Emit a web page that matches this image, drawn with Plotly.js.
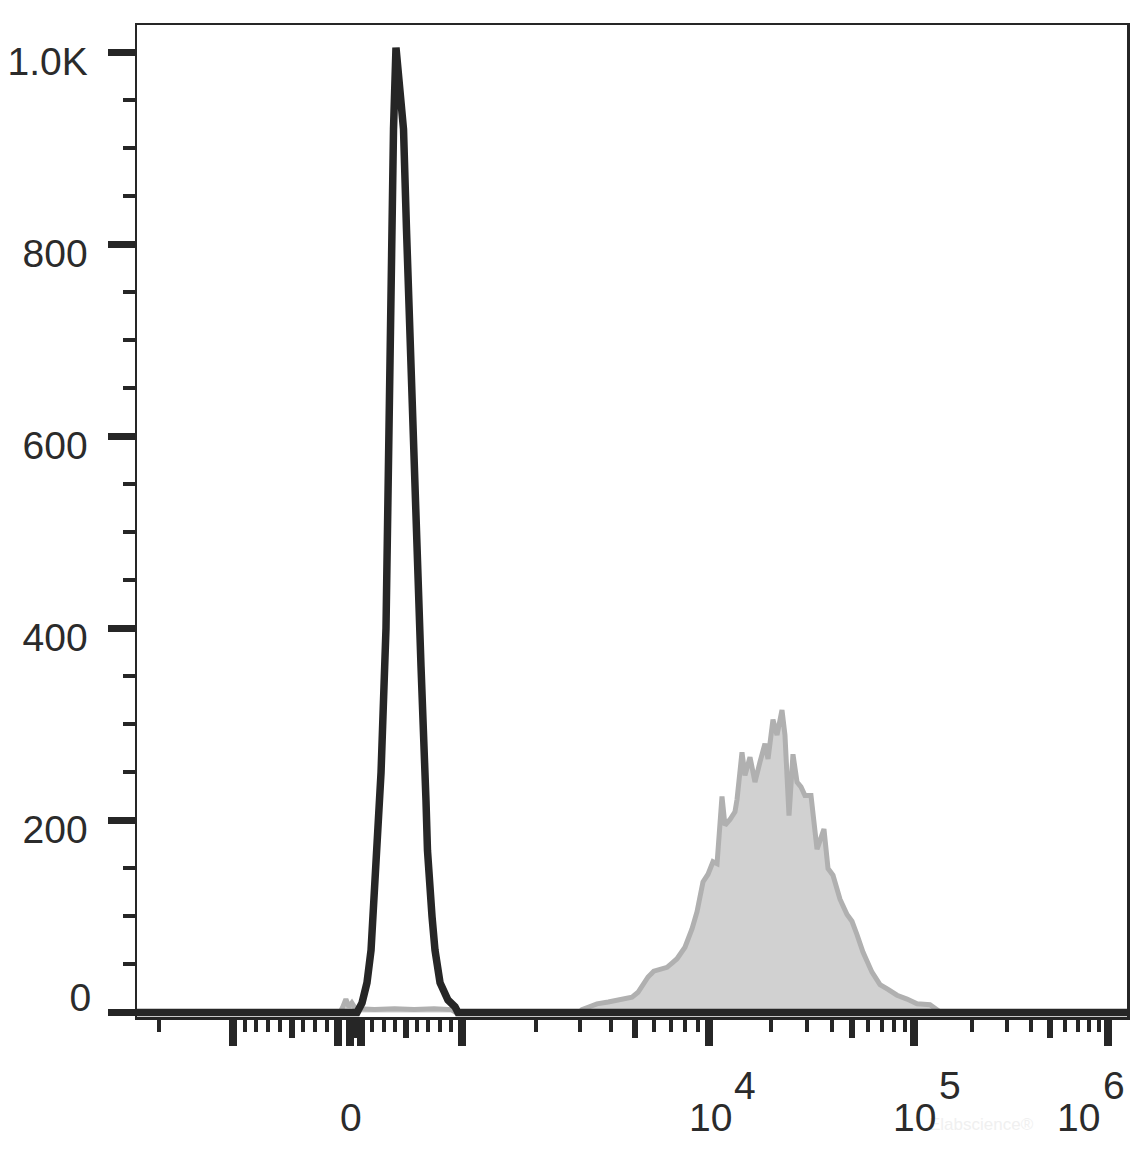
<!DOCTYPE html>
<html>
<head>
<meta charset="utf-8">
<script src="https://cdn.plot.ly/plotly-3.0.1.min.js"></script>
<style>html,body{margin:0;padding:0;background:#ffffff;}</style>
</head>
<body>
<div id="chart" style="width:1145px;height:1159px;"></div>
<script>
// ---------- data (x = display channel 0..1000 across the biexponential axis, y = cell count) ----------
const controlChannel = [0, 222.2, 227.3, 232.3, 236.4, 239.4, 243.4, 246.5, 251.5, 255.1, 257.6, 259.1, 261.6, 263.6, 265.7, 269.2, 272.2, 275.3, 281.8, 286.9, 291.9, 293.4, 298.0, 301.0, 306.1, 314.1, 321.2, 324.2, 1000];
const controlCount   = [0, 0, 10, 31, 65, 117, 169, 250, 400, 711, 816, 920, 1005, 985, 960, 920, 816, 711, 500, 360, 221, 169, 100, 65, 31, 13, 6, 0, 0];

const stainedChannel = [0, 205, 208, 211, 214, 217, 220, 223, 240, 260, 280, 300, 318, 322, 447, 449.5, 457, 464.6, 476, 487.9, 500, 506.1, 511, 516.2, 522, 528.3, 535.4, 541, 545.5, 553.5, 560.6, 565.7, 571.7, 576.8, 581.8, 585.9, 588.9, 590.9, 593.9, 599.0, 604.0, 606.1, 611.1, 614.1, 619.2, 624.2, 629.3, 634.3, 637.4, 642.4, 646.5, 651.5, 654.5, 658.6, 662.6, 666.7, 670.7, 674.7, 680.8, 686.9, 693.9, 698.0, 703.0, 710.1, 717.2, 722.2, 727.3, 733.3, 742.4, 750.5, 758.6, 767.7, 777.8, 787.9, 801.0, 808.1, 812, 1000];
const stainedCount   = [0, 0, 6, 14, 6, 10, 5, 4, 3, 4, 3, 4, 3, 0, 0, 3, 6, 9, 11, 14, 16, 21, 30, 37, 43, 45, 47, 52, 56, 68, 87, 105, 136, 144, 157, 155, 190, 225, 195, 201, 209, 222, 271, 247, 266, 240, 261, 280, 264, 305, 289, 315, 289, 205, 269, 240, 235, 226, 226, 170, 191, 150, 143, 118, 102, 95, 81, 63, 42, 29, 24, 18, 14, 9, 8, 3, 0, 0];

// ---------- axis ticks ----------
const yTickValues = [0, 200, 400, 600, 800, 1000];
const yTickLabels = ['0', '200', '400', '600', '800', '1.0K'];
const yMinorStep = 50;

const xMajorValues  = [-1000, -100, 0, 100, 1000, 1e4, 1e5, 1e6];
const xMediumValues = [-500, 50, 500, 5e3, 5e4, 5e5];
const xMinorValues  = [-2000, -900, -800, -700, -600, -400, -300, -200,
                       200, 300, 400, 600, 700, 800, 900,
                       2e3, 3e3, 4e3, 6e3, 7e3, 8e3, 9e3,
                       2e4, 3e4, 4e4, 6e4, 7e4, 8e4, 9e4,
                       2e5, 3e5, 4e5, 6e5, 7e5, 8e5, 9e5];
const xLabelValues    = [0, 1e4, 1e5, 1e6];
const xLabelBases     = ['0', '10', '10', '10'];
const xLabelExponents = ['', '4', '5', '6'];

// ---------- biexponential display scale: fluorescence value -> display channel ----------
const biex = {
  zeroChannel: 215.2,
  linearLimit: 1000,
  posLinearEnd: 328.3,
  negLinearEnd: 97.0,
  decadeExp: [3, 4, 5, 6],
  decadeChannel: [328.3, 577.8, 784.8, 980.8],
  negDecadeWidth: 250
};
function toChannel(v) {
  if (v >= 0 && v <= biex.linearLimit) return biex.zeroChannel + (biex.posLinearEnd - biex.zeroChannel) * v / biex.linearLimit;
  if (v < 0 && v >= -biex.linearLimit) return biex.zeroChannel + (biex.zeroChannel - biex.negLinearEnd) * v / biex.linearLimit;
  if (v < 0) return biex.negLinearEnd - biex.negDecadeWidth * Math.log10(-v / biex.linearLimit);
  const e = Math.log10(v);
  const d = biex.decadeExp, c = biex.decadeChannel;
  for (let i = 0; i < d.length - 1; i++) {
    if (e <= d[i + 1]) return c[i] + (c[i + 1] - c[i]) * (e - d[i]) / (d[i + 1] - d[i]);
  }
  const n = d.length - 1;
  return c[n] + (c[n] - c[n - 1]) * (e - d[n]);
}

const ink = '#262626';
const textInk = '#2b2b2b';
const fontFamily = 'Arial, "Liberation Sans", sans-serif';

const traces = [
  {
    x: stainedChannel, y: stainedCount, type: 'scatter', mode: 'lines',
    fill: 'tozeroy', fillcolor: '#d1d1d1',
    line: {color: '#b0b0b0', width: 5, shape: 'linear'},
    hoverinfo: 'skip', showlegend: false
  },
  {
    x: controlChannel, y: controlCount, type: 'scatter', mode: 'lines',
    line: {color: ink, width: 7.5, shape: 'linear'},
    hoverinfo: 'skip', showlegend: false
  },
  // empty helpers so the overlay axes are drawn
  {x: [], y: [], type: 'scatter', mode: 'lines', xaxis: 'x2', yaxis: 'y', hoverinfo: 'skip', showlegend: false},
  {x: [], y: [], type: 'scatter', mode: 'lines', xaxis: 'x', yaxis: 'y2', hoverinfo: 'skip', showlegend: false}
];

const xRange = [0, 1000];
const yRange = [-4.7, 1028.6];

const annotations = [];
annotations.push({
  x: 1, xref: 'paper', y: 0, yref: 'paper', xanchor: 'right', yanchor: 'top',
  xshift: -91, yshift: -96, text: 'Elabscience®', showarrow: false,
  font: {family: fontFamily, size: 17, color: '#f0f0f0'}
});
xLabelValues.forEach((v, i) => {
  const shift = (i === xLabelValues.length - 1) ? -30 : 0;
  annotations.push({
    x: toChannel(v), xref: 'x', y: 0, yref: 'paper',
    xanchor: 'center', yanchor: 'top', xshift: shift + 1, yshift: -77,
    text: xLabelBases[i], showarrow: false,
    font: {family: fontFamily, size: 39, color: textInk}
  });
  if (xLabelExponents[i]) {
    annotations.push({
      x: toChannel(v), xref: 'x', y: 0, yref: 'paper',
      xanchor: 'center', yanchor: 'top', xshift: shift + 36, yshift: -45,
      text: xLabelExponents[i], showarrow: false,
      font: {family: fontFamily, size: 39, color: textInk}
    });
  }
});

const layout = {
  width: 1145, height: 1159,
  margin: {l: 137, r: 18, t: 25, b: 142, pad: 0},
  paper_bgcolor: '#ffffff', plot_bgcolor: '#ffffff',
  showlegend: false,
  xaxis: {
    range: xRange, fixedrange: true,
    showgrid: false, zeroline: false,
    showline: true, mirror: true, linecolor: ink, linewidth: 2.5,
    tickmode: 'array', tickvals: xMajorValues.map(toChannel),
    ticks: 'outside', ticklen: 26, tickwidth: 8, tickcolor: ink,
    showticklabels: false,
    minor: {tickmode: 'array', tickvals: xMinorValues.map(toChannel), ticks: 'outside', ticklen: 12, tickwidth: 4, tickcolor: ink, showgrid: false}
  },
  xaxis2: {
    range: xRange, overlaying: 'x', anchor: 'y', side: 'bottom', fixedrange: true,
    showgrid: false, zeroline: false, showline: false,
    tickmode: 'array', tickvals: xMediumValues.map(toChannel),
    ticks: 'outside', ticklen: 20, tickwidth: 6, tickcolor: ink,
    showticklabels: false
  },
  yaxis: {
    range: yRange, fixedrange: true,
    showgrid: false, zeroline: false,
    showline: true, mirror: true, linecolor: ink, linewidth: 2.5,
    tickmode: 'array', tickvals: yTickValues,
    ticktext: yTickLabels.map((t, i) => i === 0 ? '' : t),
    ticks: 'outside', ticklen: 27, tickwidth: 7, tickcolor: ink,
    tickfont: {family: fontFamily, size: 39, color: textInk},
    ticklabelshift: 9, ticklabelstandoff: 12,
    minor: {dtick: yMinorStep, tick0: 0, ticks: 'outside', ticklen: 12, tickwidth: 4, tickcolor: ink, showgrid: false}
  },
  yaxis2: {
    range: yRange, overlaying: 'y', anchor: 'x', side: 'left', fixedrange: true,
    showgrid: false, zeroline: false, showline: false,
    tickmode: 'array', tickvals: [yTickValues[0]], ticktext: [yTickLabels[0]],
    ticks: 'outside', ticklen: 27, tickwidth: 1, tickcolor: 'rgba(0,0,0,0)',
    tickfont: {family: fontFamily, size: 39, color: textInk},
    ticklabelshift: -15, ticklabelstandoff: 10
  },
  annotations: annotations
};

Plotly.newPlot('chart', traces, layout, {staticPlot: true, displayModeBar: false});
</script>
</body>
</html>
